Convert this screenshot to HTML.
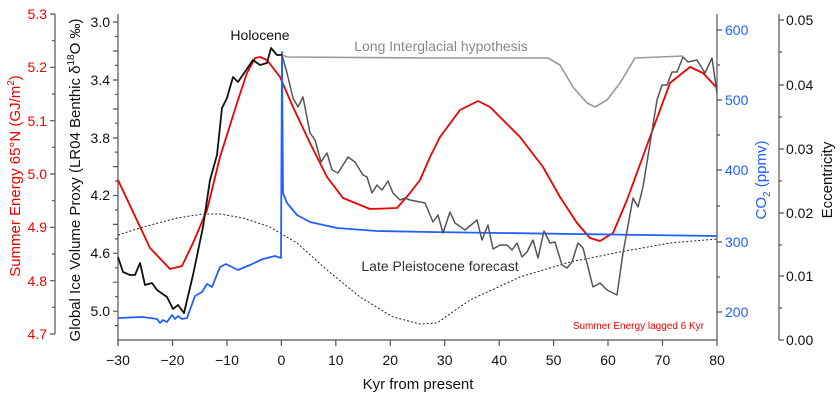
<!DOCTYPE html>
<html><head><style>body{margin:0;background:#fff}svg{display:block;font-family:"Liberation Sans",sans-serif}</style></head><body>
<svg width="840" height="400" viewBox="0 0 840 400">
<g stroke="#555" stroke-width="1.2" fill="none">
<line x1="55" y1="14" x2="55" y2="334"/>
<path d="M55 14h-5M55 40.7h-3M55 67.3h-5M55 94h-3M55 120.7h-5M55 147.3h-3M55 174h-5M55 200.7h-3M55 227.3h-5M55 254h-3M55 280.7h-5M55 307.3h-3M55 334h-5"/>
<line x1="118" y1="14" x2="118" y2="346"/>
<path d="M118 22h-5M118 36.5h-3M118 51h-5M118 65.4h-3M118 80h-5M118 94.3h-3M118 109h-5M118 123.2h-3M118 138h-5M118 152.1h-3M118 166.6h-5M118 181h-3M118 195.5h-5M118 210h-3M118 224.4h-5M118 238.9h-3M118 253.3h-5M118 267.8h-3M118 282.2h-5M118 296.7h-3M118 311.2h-5M118 325.6h-3"/>
<line x1="118" y1="340" x2="717" y2="340"/>
<path d="M118 340v6M172.5 340v6M227 340v6M281.4 340v6M335.8 340v6M390.3 340v6M444.7 340v6M499.2 340v6M553.6 340v6M608 340v6M662.5 340v6M717 340v6"/>
<line x1="717" y1="14" x2="717" y2="340"/>
<path d="M717 30h5M717 65h3M717 100h5M717 135h3M717 170h5M717 206h3M717 242h5M717 277h3M717 312h5"/>
<line x1="779" y1="14" x2="779" y2="340"/>
<path d="M779 20h5M779 52h3M779 85h5M779 117h3M779 149h5M779 181h3M779 213h5M779 245h3M779 276h5M779 308h3M779 340h5"/>
</g>
<g font-size="14" fill="#e00" text-anchor="end">
<text x="47" y="19">5.3</text><text x="47" y="72">5.2</text><text x="47" y="126">5.1</text><text x="47" y="179">5.0</text><text x="47" y="232">4.9</text><text x="47" y="286">4.8</text><text x="47" y="339">4.7</text>
</g>
<g font-size="14" fill="#111" text-anchor="end">
<text x="110" y="27">3.0</text><text x="110" y="85">3.4</text><text x="110" y="143">3.8</text><text x="110" y="200">4.2</text><text x="110" y="258">4.6</text><text x="110" y="316">5.0</text>
</g>
<g font-size="14" fill="#111" text-anchor="middle">
<text x="118" y="365">−30</text><text x="172.5" y="365">−20</text><text x="227" y="365">−10</text><text x="281.4" y="365">0</text><text x="335.8" y="365">10</text><text x="390.3" y="365">20</text><text x="444.7" y="365">30</text><text x="499.2" y="365">40</text><text x="553.6" y="365">50</text><text x="608" y="365">60</text><text x="662.5" y="365">70</text><text x="717" y="365">80</text>
<text x="418" y="389" font-size="15">Kyr from present</text>
</g>
<g font-size="14" fill="#2060ff">
<text x="725" y="35">600</text><text x="725" y="105">500</text><text x="725" y="175">400</text><text x="725" y="247">300</text><text x="725" y="317">200</text>
</g>
<g font-size="14" fill="#111">
<text x="786" y="25">0.05</text><text x="786" y="90">0.04</text><text x="786" y="154">0.03</text><text x="786" y="218">0.02</text><text x="786" y="281">0.01</text><text x="786" y="345">0.00</text>
</g>
<text transform="translate(20,176) rotate(-90)" font-size="15" fill="#e00" text-anchor="middle">Summer Energy 65°N (GJ/m<tspan font-size="10" dy="-6">2</tspan><tspan dy="6">)</tspan></text>
<text transform="translate(80,180) rotate(-90)" font-size="15" fill="#111" text-anchor="middle">Global Ice Volume Proxy (LR04 Benthic δ<tspan font-size="10" dy="-6">18</tspan><tspan dy="6">O ‰)</tspan></text>
<text transform="translate(766,180) rotate(-90)" font-size="15" fill="#2060ff" text-anchor="middle">CO<tspan font-size="10" dy="4">2</tspan><tspan dy="-4"> (ppmv)</tspan></text>
<text transform="translate(832,180) rotate(-90)" font-size="15" fill="#111" text-anchor="middle">Eccentricity</text>
<g fill="none" stroke-linejoin="round">
<polyline stroke="#999" stroke-width="1.6" points="282,55 287,57 430,58 548,58 560,65 573,87 587,103 595,107 607,100 620,83 635,58 683,56"/>
<polyline stroke="#222" stroke-width="1" stroke-dasharray="2,2" points="118,235 143,227 177,218 203,214 220,214 243,218 270,227 297,243 327,270 360,297 393,317 420,324 437,323 470,300 520,277 570,262 620,252 670,243 717,239"/>
<polyline stroke="#e00" stroke-width="1.8" points="118,180 150,248 170,269 182,266 193,243 207,210 220,157 237,103 247,73 255,58 260,57 267,60 280,77 293,107 310,143 327,177 343,198 370,209 397,208 410,193 420,180 430,157 440,137 460,110 478,101 490,107 503,120 520,137 543,167 560,197 577,223 590,238 600,241 613,233 627,200 650,137 670,83 690,67 703,73 717,88"/>
<polyline stroke="#2060ff" stroke-width="1.8" points="118,318 143,317 157,319 160,323 163,320 167,322 172,315 175,319 178,316 182,319 187,318 195,296 202,292 207,284 212,287 220,267 226,264 238,270 250,265 263,259 275,256 281,258 282,52 283,193 287,203 297,215 310,222 337,228 377,231 430,232 717,236"/>
<polyline stroke="#111" stroke-width="1.8" points="118,257 123,272 130,275 135,275 140,263 145,285 152,283 157,290 167,297 173,309 178,305 184,313 193,275 203,227 210,180 217,155 222,108 227,98 233,77 238,82 253,60 260,65 267,63 271,48 277,55 282,55"/>
<polyline stroke="#555" stroke-width="1.5" points="282,55 287,73 293,98 298,107 303,97 310,133 315,140 321,162 327,153 332,170 338,173 348,157 355,162 363,175 367,177 372,193 377,185 382,190 388,181 393,193 400,200 405,198 410,200 425,203 430,215 433,222 438,215 443,233 450,212 455,223 465,230 477,220 482,240 488,225 493,249 500,245 507,245 512,250 517,243 522,257 527,252 533,240 538,258 544,231 550,243 555,242 562,265 567,268 572,262 578,243 583,248 588,267 593,287 600,283 607,290 617,295 623,253 633,198 638,207 643,187 657,100 662,85 667,85 672,72 677,72 683,57 688,62 697,60 705,73 712,58 717,93"/>
</g>
<text x="260" y="40" font-size="14" fill="#111" text-anchor="middle">Holocene</text>
<text x="441" y="51" font-size="14" fill="#888" text-anchor="middle">Long Interglacial hypothesis</text>
<text x="440" y="271" font-size="14" fill="#333" text-anchor="middle">Late Pleistocene forecast</text>
<text x="704" y="329" font-size="10" fill="#e00" text-anchor="end">Summer Energy lagged 6 Kyr</text>
</svg>
</body></html>
